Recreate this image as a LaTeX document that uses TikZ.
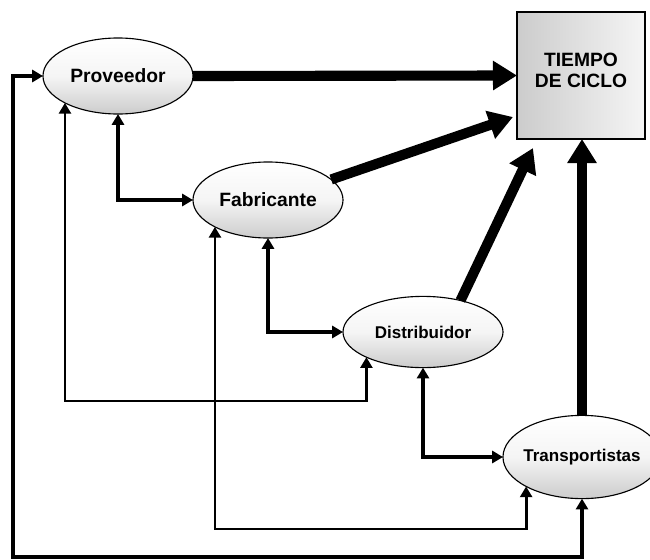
\documentclass[tikz,border=0pt]{standalone}
\usepackage{fontspec}
\setmainfont{Liberation Sans}
\usetikzlibrary{
  shapes.geometric, % ellipse
  arrows.meta,
  calc              % Calculations $...$
}
\def\bigfont{\fontsize{13.7}{15}\selectfont\bfseries}
\def\smallfont{\fontsize{12.1}{14}\selectfont\bfseries}
\tikzset{
  x=0.025cm,
  y=-0.025cm,
  actor/.style={
    ellipse,
    draw,
    line width=0.8pt,
    inner sep=0pt,
    outer sep=0pt,
    top color=white,
    bottom color=black!20,
    middle color=black!4,
    minimum width=3.75cm,
    minimum height=1.9cm
  },
  goal/.style={
    rectangle,
    draw,
    line width=1.1pt,
    outer sep=0pt,
    align=center,
    font=\bigfont,
    left color=black!20,
    right color=black!4,
    minimum width=3.2cm,
    minimum height=3.175cm
  },
  link/.style={
    line width=2.6pt,
    {Triangle[length=0.27cm,width=0.3cm]}-{Triangle[length=0.27cm,width=0.3cm]}
  },
  route/.style={link,line width=2pt},
  flow/.style={
    line width=7.2pt,
    -{Triangle[length=0.6cm,width=0.7cm]}
  }
}
\begin{document}
\begin{tikzpicture}
\useasboundingbox (0,0) rectangle (650,559);
\node[actor,label={[font=\bigfont]center:Proveedor}] (prov) at (118,76) {};
\node[actor,label={[font=\bigfont]center:Fabricante}] (fab) at (268,200) {};
\node[actor,minimum width=4cm,minimum height=1.78cm,
      label={[font=\smallfont]center:Distribuidor}] (dist) at (423,332) {};
\node[actor,minimum width=3.95cm,minimum height=2.08cm,
      label={[font=\smallfont]center:Transportistas}] (trans) at (582,457) {};
\node[goal] (tiempo) at (581,75.5) {};
\node[font=\bigfont,align=center] (tiempotext) at (581,70) {TIEMPO\\DE CICLO};

\coordinate (row1) at (0,401);
\coordinate (row2) at (0,529);
\coordinate (corner) at (13,557);

% elbows between neighbours
\draw[link] (prov.south) |- (fab.west);
\draw[link] (fab.south) |- (dist.west);
\draw[link] (dist.south) |- (trans.west);
% long routes
\draw[route] (prov.south west) -- (prov.south west |- row1) -| (dist.south west);
\draw[route] (fab.south west) -- (fab.south west |- row2) -| (trans.south west);
\draw[link] (trans.south) |- (corner) |- (prov.west);

% into the cycle time
\draw[flow] (prov.east) -- (tiempo.west);
\draw[flow] (fab.18) -- ($(tiempo.south west)+(-4,-22)$);
\draw[flow] (dist.40) -- ($(tiempo.south west)+(16,9)$);
\draw[flow] (trans.north) -- (trans.north |- tiempo.south);
\end{tikzpicture}
\end{document}
